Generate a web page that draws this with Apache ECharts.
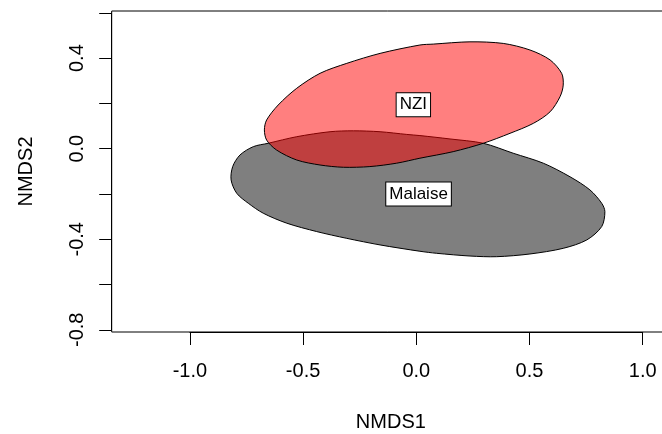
<!DOCTYPE html>
<html>
<head>
<meta charset="utf-8">
<script src="https://cdn.jsdelivr.net/npm/echarts@6/dist/echarts.min.js"></script>
<style>
html,body{margin:0;padding:0;background:#fff;}
#chart{width:662px;height:434px;}
</style>
</head>
<body>
<div id="chart"></div>
<script>
// ---- data ----
const groupNames = ['Malaise', 'NZI'];
const groupFills = ['rgba(0,0,0,0.5)', 'rgba(255,0,0,0.5)'];

// Malaise ellipse outline (NMDS1, NMDS2)
const malaiseX = [-0.818,-0.811,-0.779,-0.720,-0.654,-0.528,-0.381,-0.278,-0.160,-0.042,0.016,0.149,0.296,0.428,0.561,0.679,0.767,0.819,0.833,0.819,0.753,0.649,0.502,0.355,0.237,0.090,0.016,-0.160,-0.307,-0.440,-0.572,-0.676,-0.742,-0.793];
const malaiseY = [-0.138,-0.079,-0.028,0.009,0.024,0.053,0.075,0.079,0.075,0.063,0.058,0.043,0.024,-0.020,-0.064,-0.124,-0.182,-0.241,-0.278,-0.344,-0.403,-0.440,-0.465,-0.477,-0.474,-0.462,-0.453,-0.425,-0.396,-0.366,-0.329,-0.285,-0.241,-0.197];

// NZI ellipse outline
const nziX = [-0.671,-0.661,-0.610,-0.528,-0.425,-0.307,-0.160,0.016,0.075,0.237,0.384,0.502,0.591,0.642,0.649,0.635,0.591,0.517,0.414,0.296,0.163,0.016,-0.087,-0.205,-0.322,-0.425,-0.528,-0.617,-0.661];
const nziY = [0.083,0.127,0.193,0.267,0.333,0.377,0.421,0.458,0.462,0.472,0.465,0.436,0.392,0.333,0.281,0.230,0.163,0.112,0.068,0.024,-0.013,-0.042,-0.064,-0.079,-0.082,-0.072,-0.050,-0.006,0.038];

// group label positions (centroids)
const centroidX = [0.010, -0.013];
const centroidY = [-0.200, 0.194];

// axis ticks
const xTicks = [-1.0, -0.5, 0.0, 0.5, 1.0];
const yTickLabels = ['-0.8', '-0.4', '0.0', '0.4'];
const xTitle = 'NMDS1';
const yTitle = 'NMDS2';

// ---- build chart ----
const outlinesX = [malaiseX, nziX];
const outlinesY = [malaiseY, nziY];

const chart = echarts.init(document.getElementById('chart'), null, {renderer: 'canvas'});
const fontFam = "'Liberation Sans', Arial, Helvetica, sans-serif";

const option = {
  animation: false,
  backgroundColor: '#fff',
  grid: [
    {left: 111.7, right: -8, top: 11, bottom: 102, containLabel: false, outerBoundsMode: 'none',
     show: true, borderColor: '#000', borderWidth: 1, backgroundColor: 'transparent'},
    {left: 189.9, right: 19.3, top: 12.86, bottom: 104.2, containLabel: false, outerBoundsMode: 'none', show: false}
  ],
  xAxis: [
    {gridIndex: 0, type: 'value', min: -1.3454, max: 1.1206,
     axisLine: {show: false}, axisTick: {show: false}, axisLabel: {show: false}, splitLine: {show: false},
     name: xTitle, nameLocation: 'middle', nameGap: 80,
     nameTextStyle: {fontFamily: fontFam, fontSize: 20, color: '#000'}},
    {gridIndex: 1, type: 'value', min: xTicks[0], max: xTicks[xTicks.length - 1], interval: 0.5,
     position: 'bottom', offset: 2.2,
     axisLine: {show: true, onZero: false, lineStyle: {color: '#000', width: 1}},
     axisTick: {show: true, length: 13, lineStyle: {color: '#000', width: 1}},
     axisLabel: {show: true, margin: 29, fontFamily: fontFam, fontSize: 20, color: '#000',
       formatter: v => v.toFixed(1)},
     splitLine: {show: false}}
  ],
  yAxis: [
    {gridIndex: 0, type: 'value', min: -0.8096, max: 0.6082,
     axisLine: {show: false}, axisTick: {show: false}, axisLabel: {show: false}, splitLine: {show: false},
     name: yTitle, nameLocation: 'middle', nameGap: 75, nameRotate: 90,
     nameTextStyle: {fontFamily: fontFam, fontSize: 20, color: '#000'}},
    {gridIndex: 1, type: 'value', min: -0.8, max: 0.6, interval: 0.2,
     position: 'left', offset: 78.2,
     axisLine: {show: true, onZero: false, lineStyle: {color: '#000', width: 1}},
     axisTick: {show: true, length: 12.5, lineStyle: {color: '#000', width: 1}},
     axisLabel: {show: true, rotate: 90, margin: 24, fontFamily: fontFam, fontSize: 20, color: '#000',
       formatter: v => { const s = v.toFixed(1); return yTickLabels.indexOf(s) >= 0 ? s : ''; }},
     splitLine: {show: false}}
  ],
  series: [
    {
      type: 'custom',
      xAxisIndex: 0, yAxisIndex: 0,
      clip: false,
      data: groupNames.map((n, i) => [centroidX[i], centroidY[i]]),
      renderItem: function (params, api) {
        const i = params.dataIndex;
        const xs = outlinesX[i], ys = outlinesY[i];
        const pts = xs.map((x, k) => api.coord([x, ys[k]]));
        return {
          type: 'polygon',
          shape: {points: pts, smooth: 0.3},
          style: {fill: groupFills[i], stroke: '#000', lineWidth: 1}
        };
      },
      z: 2
    },
    {
      type: 'custom',
      xAxisIndex: 0, yAxisIndex: 0,
      clip: false,
      data: groupNames.map((n, i) => [centroidX[i], centroidY[i]]),
      renderItem: function (params, api) {
        const i = params.dataIndex;
        const p = api.coord([centroidX[i], centroidY[i]]);
        return {
          type: 'text',
          x: p[0], y: p[1],
          style: {
            text: groupNames[i],
            fill: '#000',
            font: '17px ' + fontFam,
            align: 'center',
            verticalAlign: 'middle',
            backgroundColor: '#fff',
            borderColor: '#000',
            borderWidth: 1,
            padding: [3, 3, 3, 3]
          }
        };
      },
      z: 5
    }
  ]
};
chart.setOption(option);
</script>
</body>
</html>
